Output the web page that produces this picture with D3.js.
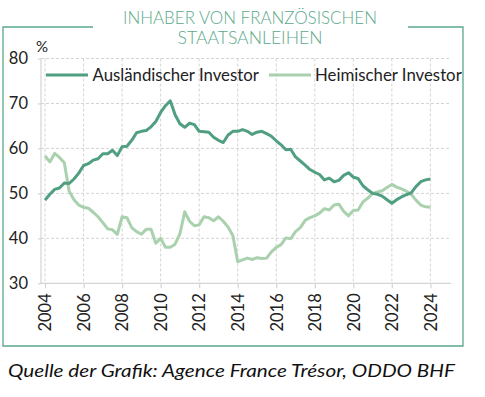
<!DOCTYPE html>
<html>
<head>
<meta charset="utf-8">
<script src="https://cdn.jsdelivr.net/npm/d3@7"></script>
<style>
  body { margin: 0; background: #fff; }
  text { font-family: Lato, "Open Sans", sans-serif; }
</style>
</head>
<body>
<div class="chart"></div>
<script>
// quarterly, 2004 Q1 .. 2024 Q1
const startYear = 2004;
const foreignShare = [
  48.5, 49.8, 50.9, 51.2, 52.3, 52.2, 53.2, 54.5, 56.2, 56.6, 57.4, 57.7,
  58.8, 58.8, 59.6, 58.4, 60.4, 60.5, 61.8, 63.5, 63.8, 64.0, 64.8, 66.0,
  68.0, 69.5, 70.6, 67.5, 65.5, 64.7, 65.6, 65.3, 63.8, 63.7, 63.6, 62.5,
  61.8, 61.3, 63.0, 63.8, 63.8, 64.2, 63.8, 63.1, 63.6, 63.8, 63.3, 62.7,
  61.7, 60.8, 59.7, 59.8, 58.1, 57.2, 56.3, 55.3, 54.7, 54.2, 53.0, 53.4,
  52.6, 52.9, 54.0, 54.6, 53.6, 53.3, 51.7, 50.8, 50.0, 49.8, 49.4, 48.6,
  47.8, 48.6, 49.2, 49.7, 50.1, 51.5, 52.6, 53.0, 53.2
];
const domesticShare = [
  58.3, 57.0, 58.9, 58.0, 56.8, 50.5, 48.6, 47.4, 46.9, 46.7, 45.8, 44.8,
  43.5, 42.1, 41.9, 40.9, 44.8, 44.6, 42.4, 41.5, 40.9, 42.0, 42.0, 38.9,
  40.0, 38.0, 38.0, 38.7, 41.0, 45.9, 43.8, 42.8, 43.0, 44.8, 44.6, 43.9,
  44.8, 43.8, 42.5, 40.6, 34.8, 35.2, 35.6, 35.3, 35.7, 35.5, 35.6, 37.0,
  38.0, 38.6, 40.1, 39.9, 41.5, 42.4, 44.0, 44.6, 45.0, 45.6, 46.6, 46.3,
  47.4, 47.6, 46.0, 45.0, 46.2, 46.3, 48.1, 48.9, 50.0, 50.3, 50.6, 51.3,
  52.0, 51.4, 51.0, 50.5, 49.8, 48.5, 47.4, 47.0, 46.9
];
const seriesNames = ["Ausländischer Investor", "Heimischer Investor"];
const seriesColors = ["#4f9f80", "#a9d1ae"];
const yTicks = [30, 40, 50, 60, 70, 80];
const xTicks = d3.range(2004, 2025, 2);
const titleLines = ["INHABER VON FRANZÖSISCHEN", "STAATSANLEIHEN"];
const sourceText = "Quelle der Grafik: Agence France Trésor, ODDO BHF";

const width = 485, height = 397;
const frame = { left: 3, top: 27, right: 463, bottom: 346 };
const plot = { left: 41, right: 451, top: 58.5, bottom: 283.3 };
const green = "#5aa98a";
const grid = "#d4d4d4";

const svg = d3.select(".chart")
  .append("svg")
  .attr("width", width)
  .attr("height", height);

const x = d3.scaleLinear().domain([2003.79, 2025.07]).range([plot.left, plot.right]);
const y = d3.scaleLinear().domain([30, 80]).range([plot.bottom, plot.top]);

// frame with a gap for the title
const gapL = 93, gapR = 408;
svg.append("path")
  .attr("d", `M${gapL},${frame.top}H${frame.left}V${frame.bottom}H${frame.right}V${frame.top}H${gapR}`)
  .attr("fill", "none")
  .attr("stroke", green)
  .attr("stroke-width", 1.3);

const titleWidths = [254, 145];
svg.selectAll(".title")
  .data(titleLines)
  .enter()
  .append("text")
  .attr("class", "title")
  .attr("x", 250)
  .attr("y", (d, i) => 23.8 + i * 20.5)
  .attr("text-anchor", "middle")
  .attr("fill", green)
  .attr("font-size", 17)
  .attr("font-weight", 300)
  .attr("textLength", (d, i) => titleWidths[i])
  .attr("lengthAdjust", "spacingAndGlyphs")
  .text(d => d);

// grid
svg.append("g")
  .selectAll("line")
  .data(yTicks.filter(d => d > 30))
  .enter()
  .append("line")
  .attr("x1", plot.left).attr("x2", plot.right)
  .attr("y1", d => y(d)).attr("y2", d => y(d))
  .attr("stroke", grid)
  .attr("stroke-dasharray", "3,2");

svg.append("g")
  .selectAll("line")
  .data(xTicks)
  .enter()
  .append("line")
  .attr("x1", d => x(d)).attr("x2", d => x(d))
  .attr("y1", plot.top).attr("y2", plot.bottom)
  .attr("stroke", grid)
  .attr("stroke-dasharray", "3,2");

// axes
const yAxis = svg.append("g")
  .attr("transform", `translate(${plot.left},0)`)
  .call(d3.axisLeft(y).tickValues(yTicks).tickSize(3).tickPadding(10));
const xAxis = svg.append("g")
  .attr("transform", `translate(0,${plot.bottom})`)
  .call(d3.axisBottom(x).tickValues(xTicks).tickSize(5).tickFormat(d3.format("d")));

[yAxis, xAxis].forEach(a => {
  a.select(".domain").attr("stroke", grid).attr("stroke-width", 1.2);
  a.selectAll(".tick line").attr("stroke", grid).attr("stroke-width", 1.2);
  a.selectAll("text").attr("fill", "#222").attr("font-size", 16.5)
    .attr("font-family", "Lato, sans-serif");
});
xAxis.select(".domain").attr("d", `M${plot.left},0H${plot.right}`);
yAxis.select(".domain").attr("d", `M0,${plot.top}V${plot.bottom}`);

xAxis.selectAll("text")
  .attr("transform", "rotate(-90)")
  .attr("text-anchor", "end")
  .attr("x", -10)
  .attr("y", 0)
  .attr("dy", "0.35em");

svg.append("text")
  .attr("x", 36)
  .attr("y", 52)
  .attr("font-size", 15)
  .attr("fill", "#222")
  .text("%");

// lines
const line = d3.line()
  .x((d, i) => x(startYear + i / 4))
  .y(d => y(d));

[domesticShare, foreignShare].forEach((s, k) => {
  svg.append("path")
    .datum(s)
    .attr("d", line)
    .attr("fill", "none")
    .attr("stroke", seriesColors[1 - k])
    .attr("stroke-width", 3)
    .attr("stroke-linejoin", "round");
});

// legend
const legendPos = [{ lx: 46, tx: 92.5 }, { lx: 269, tx: 315 }];
const legend = svg.selectAll(".legend")
  .data(seriesNames)
  .enter()
  .append("g")
  .attr("class", "legend");
legend.append("line")
  .attr("x1", (d, i) => legendPos[i].lx)
  .attr("x2", (d, i) => legendPos[i].lx + 42)
  .attr("y1", 75).attr("y2", 75)
  .attr("stroke", (d, i) => seriesColors[i])
  .attr("stroke-width", 3);
legend.append("text")
  .attr("x", (d, i) => legendPos[i].tx)
  .attr("y", 81)
  .attr("font-size", 16.8)
  .attr("fill", "#222")
  .text(d => d);

svg.append("text")
  .attr("x", 8)
  .attr("y", 377)
  .attr("font-size", 17)
  .attr("font-style", "italic")
  .attr("fill", "#111")
  .attr("textLength", 447)
  .attr("lengthAdjust", "spacingAndGlyphs")
  .text(sourceText);
</script>
</body>
</html>
